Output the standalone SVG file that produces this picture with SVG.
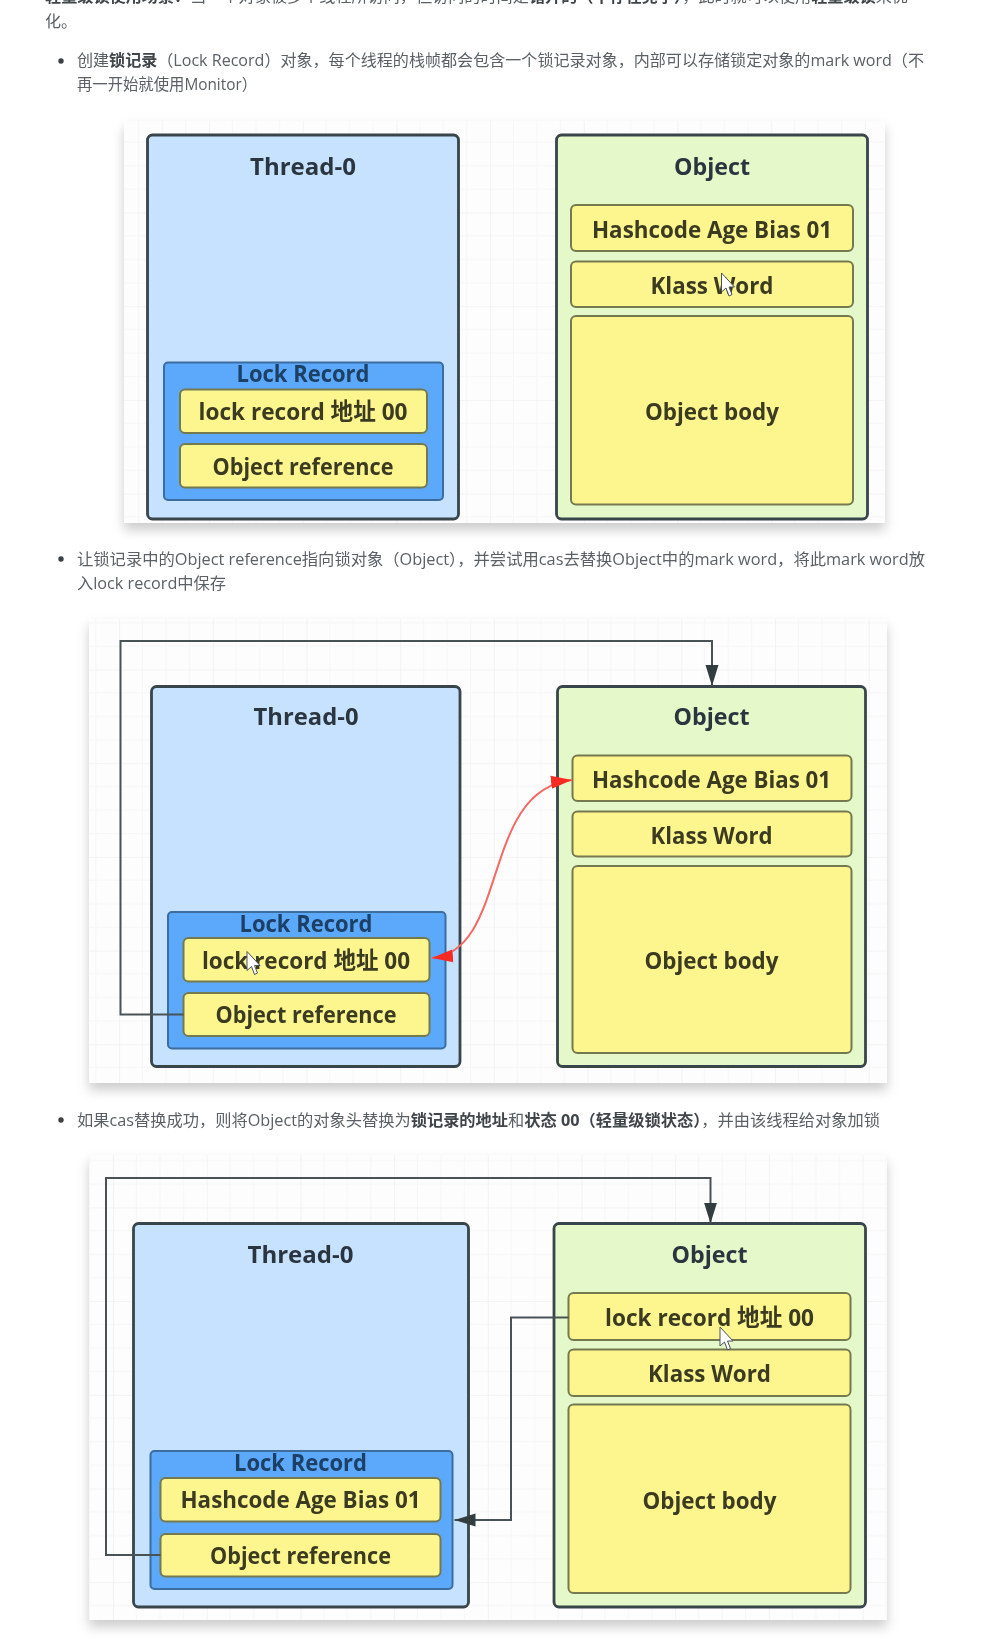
<svg xmlns="http://www.w3.org/2000/svg" width="995" height="1652" viewBox="0 0 995 1652">
<style>
text{font-family:"Open Sans","Noto Sans CJK SC",sans-serif}
.p{font-size:16px;fill:#5a6065}
.b{font-weight:700;fill:#3f4449}
.t{font-size:24px;font-weight:700;fill:#2b3640;text-anchor:middle}
.n{font-size:24px;font-weight:700;fill:#3b3a22;text-anchor:middle}
.l{font-size:24px;font-weight:700;fill:#1e3f66;text-anchor:middle}
.th{fill:#c7e2ff;stroke:#39444b;stroke-width:2.800}
.ob{fill:#e4f8c9;stroke:#39444b;stroke-width:2.800}
.lr{fill:#5ba9fb;stroke:#3c6c9e;stroke-width:2}
.y{fill:#fdf68f;stroke:#75794f;stroke-width:2}
.c{fill:none;stroke:#4a5357;stroke-width:2}
.cur{fill:#fff;stroke:#4a5058;stroke-width:1}
.bg{fill:#fdfdfd}
</style>
<defs>
<filter id="s" x="-5%" y="-5%" width="110%" height="112%"><feDropShadow dx="0" dy="7" stdDeviation="6" flood-color="#000" flood-opacity=".2"/></filter>
<filter id="soft" x="0" y="0" width="100%" height="100%" filterUnits="userSpaceOnUse" primitiveUnits="userSpaceOnUse"><feGaussianBlur stdDeviation=".5"/></filter>
<path id="tile" d="M0 0V93.700M0 0H93.700" fill="none" stroke="#efefef" stroke-width="1.500"/>
<path id="minor" d="M23.400 0V93.700M46.900 0V93.700M70.300 0V93.700M0 23.400H93.700M0 46.900H93.700M0 70.300H93.700" fill="none" stroke="#f7f7f7" stroke-width="1.200"/>
<pattern id="g1" patternUnits="userSpaceOnUse" x="209" y="212.500" width="93.700" height="93.700"><use href="#minor"/><use href="#tile"/></pattern>
<pattern id="g2" patternUnits="userSpaceOnUse" x="306.500" y="669.500" width="93.700" height="93.700"><use href="#minor"/><use href="#tile"/></pattern>
<pattern id="g3" patternUnits="userSpaceOnUse" x="113" y="1207.400" width="93.700" height="93.700"><use href="#minor"/><use href="#tile"/></pattern>
<marker id="ad" markerUnits="userSpaceOnUse" markerWidth="22" markerHeight="14" refX="21" refY="7" orient="auto"><path d="M0 .5 L21 7 L0 13.500 Z" fill="#323c40"/></marker>
<marker id="ar" markerUnits="userSpaceOnUse" markerWidth="22" markerHeight="14" refX="21" refY="7" orient="auto-start-reverse"><path d="M0 .5 L21 7 L0 13.500 Z" fill="#f82a20"/></marker>
<path id="cursor" d="M0 0 L0 19 L4.500 15 L7.500 23 L10.500 21.500 L7.500 14 L13 14 Z"/>
</defs>

<g id="diagram" filter="url(#soft)">
<g id="bullets" fill="#3a3f44">
<circle cx="61" cy="61" r="2.700"/>
<circle cx="61" cy="559" r="2.700"/>
<circle cx="61" cy="1120" r="2.700"/>
</g>

<g id="page-text">
<text class="p" x="45" y="2" textLength="863" lengthAdjust="spacingAndGlyphs"><tspan class="b">轻量级锁使用场景：</tspan>当一个对象被多个线程所访问，但访问的时间是<tspan class="b">错开的（不存在竞争）</tspan>，此时就可以使用<tspan class="b">轻量级锁</tspan>来优</text>
<text class="p" x="45" y="27">化。</text>
<text class="p" x="77" y="66" textLength="847" lengthAdjust="spacingAndGlyphs">创建<tspan class="b">锁记录</tspan>（Lock Record）对象，每个线程的栈帧都会包含一个锁记录对象，内部可以存储锁定对象的mark word（不</text>
<text class="p" x="77" y="90" textLength="180" lengthAdjust="spacingAndGlyphs">再一开始就使用Monitor）</text>
<text class="p" x="77" y="565" textLength="848" lengthAdjust="spacingAndGlyphs">让锁记录中的Object reference指向锁对象（Object），并尝试用cas去替换Object中的mark word，将此mark word放</text>
<text class="p" x="77" y="589" textLength="149" lengthAdjust="spacingAndGlyphs">入lock record中保存</text>
<text class="p" x="77" y="1126" textLength="803" lengthAdjust="spacingAndGlyphs">如果cas替换成功，则将Object的对象头替换为<tspan class="b">锁记录的地址</tspan>和<tspan class="b">状态 00（轻量级锁状态）</tspan>，并由该线程给对象加锁</text>
</g>

<g id="panel-1-background">
<rect class="bg" x="124" y="121" width="761" height="402" filter="url(#s)"/>
<rect x="124" y="121" width="761" height="402" fill="url(#g1)"/>
</g>
<g id="panel-2-background">
<rect class="bg" x="89" y="619" width="798" height="464" filter="url(#s)"/>
<rect x="89" y="619" width="798" height="464" fill="url(#g2)"/>
</g>
<g id="panel-3-background">
<rect class="bg" x="89" y="1155" width="798" height="465" filter="url(#s)"/>
<rect x="89" y="1155" width="798" height="465" fill="url(#g3)"/>
</g>

<g id="thread-1"><rect class="th" x="147.500" y="135" width="311" height="384" rx="5"/><text class="t" x="303" y="175" textLength="106" lengthAdjust="spacingAndGlyphs">Thread-0</text></g>
<g id="object-1"><rect class="ob" x="556.500" y="135" width="311" height="384" rx="5"/><text class="t" x="712" y="175" textLength="76" lengthAdjust="spacingAndGlyphs">Object</text></g>
<g id="o1-hash"><rect class="y" x="571" y="205" width="282" height="46" rx="5"/><text class="n" x="712" y="237.500" textLength="240" lengthAdjust="spacingAndGlyphs">Hashcode Age Bias 01</text></g>
<g id="o1-klass"><rect class="y" x="571" y="261.500" width="282" height="45.500" rx="5"/><text class="n" x="712" y="293.500" textLength="123" lengthAdjust="spacingAndGlyphs">Klass Word</text></g>
<g id="o1-body"><rect class="y" x="571" y="316" width="282" height="188.500" rx="5"/><text class="n" x="712" y="419.500" textLength="134" lengthAdjust="spacingAndGlyphs">Object body</text></g>
<g id="t1-lockrecord"><rect class="lr" x="164" y="362.500" width="279" height="137.500" rx="4"/><text class="l" x="303" y="382" textLength="133" lengthAdjust="spacingAndGlyphs">Lock Record</text></g>
<g id="t1-addr"><rect class="y" x="180" y="389.500" width="247" height="43.500" rx="5"/><text class="n" x="303" y="419.500" textLength="209" lengthAdjust="spacingAndGlyphs">lock record 地址 00</text></g>
<g id="t1-ref"><rect class="y" x="180" y="444" width="247" height="43.500" rx="5"/><text class="n" x="303" y="474.500" textLength="181" lengthAdjust="spacingAndGlyphs">Object reference</text></g>
<use href="#cursor" class="cur" x="721.500" y="273"/>

<g id="thread-2"><rect class="th" x="151.500" y="686.500" width="308.500" height="380" rx="5"/><text class="t" x="306" y="725" textLength="105" lengthAdjust="spacingAndGlyphs">Thread-0</text></g>
<g id="object-2"><rect class="ob" x="557.500" y="686.500" width="308" height="380" rx="5"/><text class="t" x="711.500" y="725" textLength="76" lengthAdjust="spacingAndGlyphs">Object</text></g>
<g id="o2-hash"><rect class="y" x="572.500" y="755.500" width="279" height="45.500" rx="5"/><text class="n" x="711.500" y="788" textLength="239" lengthAdjust="spacingAndGlyphs">Hashcode Age Bias 01</text></g>
<g id="o2-klass"><rect class="y" x="572.500" y="811.500" width="279" height="45" rx="5"/><text class="n" x="711.500" y="843.500" textLength="122" lengthAdjust="spacingAndGlyphs">Klass Word</text></g>
<g id="o2-body"><rect class="y" x="572.500" y="866" width="279" height="187" rx="5"/><text class="n" x="711.500" y="969" textLength="134" lengthAdjust="spacingAndGlyphs">Object body</text></g>
<g id="t2-lockrecord"><rect class="lr" x="168" y="912" width="277.500" height="136.500" rx="4"/><text class="l" x="306" y="932" textLength="133" lengthAdjust="spacingAndGlyphs">Lock Record</text></g>
<g id="t2-addr"><rect class="y" x="183.500" y="938" width="246" height="43.500" rx="5"/><text class="n" x="306" y="969" textLength="208" lengthAdjust="spacingAndGlyphs">lock record 地址 00</text></g>
<g id="t2-ref"><rect class="y" x="183.500" y="993" width="246" height="43" rx="5"/><text class="n" x="306" y="1023" textLength="181" lengthAdjust="spacingAndGlyphs">Object reference</text></g>
<use href="#cursor" class="cur" x="247" y="951.500"/>

<g id="thread-3"><rect class="th" x="133.500" y="1223.500" width="335" height="383.500" rx="5"/><text class="t" x="300.500" y="1263" textLength="106" lengthAdjust="spacingAndGlyphs">Thread-0</text></g>
<g id="object-3"><rect class="ob" x="554" y="1223.500" width="311.500" height="383.500" rx="5"/><text class="t" x="709.500" y="1263" textLength="76" lengthAdjust="spacingAndGlyphs">Object</text></g>
<g id="o3-addr"><rect class="y" x="568.500" y="1293" width="282" height="47" rx="5"/><text class="n" x="709.500" y="1325.500" textLength="209" lengthAdjust="spacingAndGlyphs">lock record 地址 00</text></g>
<g id="o3-klass"><rect class="y" x="568.500" y="1349.500" width="282" height="46.500" rx="5"/><text class="n" x="709.500" y="1381.500" textLength="123" lengthAdjust="spacingAndGlyphs">Klass Word</text></g>
<g id="o3-body"><rect class="y" x="568.500" y="1404.500" width="282" height="188.500" rx="5"/><text class="n" x="709.500" y="1508.500" textLength="134" lengthAdjust="spacingAndGlyphs">Object body</text></g>
<g id="t3-lockrecord"><rect class="lr" x="150.500" y="1451" width="302" height="138" rx="4"/><text class="l" x="300.500" y="1470.500" textLength="133" lengthAdjust="spacingAndGlyphs">Lock Record</text></g>
<g id="t3-hash"><rect class="y" x="160.500" y="1478" width="280" height="43.500" rx="5"/><text class="n" x="300.500" y="1508" textLength="240" lengthAdjust="spacingAndGlyphs">Hashcode Age Bias 01</text></g>
<g id="t3-ref"><rect class="y" x="160.500" y="1534" width="280" height="42.500" rx="5"/><text class="n" x="300.500" y="1564" textLength="181" lengthAdjust="spacingAndGlyphs">Object reference</text></g>
<use href="#cursor" class="cur" x="720" y="1327"/>

<g id="connectors">
<path class="c" d="M183.500 1014.500H120.500V641H712V686" marker-end="url(#ad)"/>
<path d="M432 958C510 950 480 790 572 780" fill="none" stroke="#f46a62" stroke-width="2" marker-start="url(#ar)" marker-end="url(#ar)"/>
<path class="c" d="M160.500 1555H106V1178H710.500V1223.500" marker-end="url(#ad)"/>
<path class="c" d="M568.500 1317.500H511V1520H454.500" marker-end="url(#ad)"/>
</g>
</g>
</svg>
